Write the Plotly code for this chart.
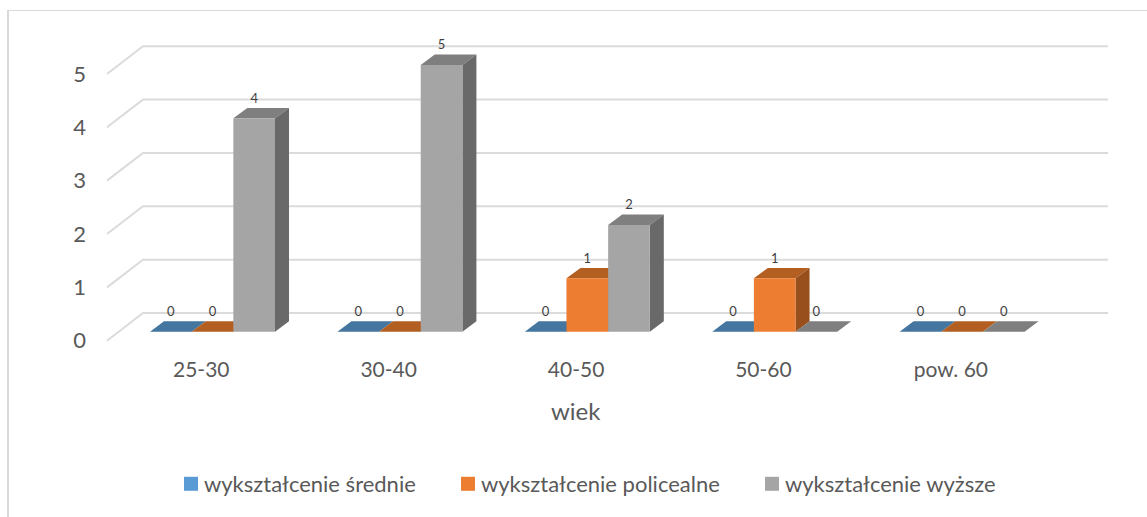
import plotly.graph_objects as go

# Data
categories = ["25-30", "30-40", "40-50", "50-60", "pow. 60"]
srednie = [0, 0, 0, 0, 0]
policealne = [0, 0, 1, 1, 0]
wyzsze = [4, 5, 2, 0, 0]
series_names = ["wykształcenie średnie", "wykształcenie policealne", "wykształcenie wyższe"]
axis_title = "wiek"
value_ticks = [0, 1, 2, 3, 4, 5]

# Canvas and scales: one x unit is one category, one y unit is one value step
W, H = 1147, 517
LEFT, RIGHT, TOP, BOTTOM = 92, 1147, 20, 355
CAT_PX = 187.4
VAL_PX = 53.35
X0_PX = 212.5
Y0_PX = 331.7

x_of = lambda px: (px - X0_PX) / CAT_PX
y_of = lambda py: (Y0_PX - py) / VAL_PX
paper_x = lambda px: (px - LEFT) / (RIGHT - LEFT)
paper_y = lambda py: (BOTTOM - py) / (BOTTOM - TOP)

BAR_W = 41.67 / CAT_PX
DEPTH_X = 14 / CAT_PX
DEPTH_Y = 10.4 / VAL_PX

WALL_FRONT_X = x_of(107)
WALL_BACK_X = x_of(143)
WALL_END_X = x_of(1108)
WALL_FRONT_Y0 = y_of(340.7)
WALL_BACK_Y0 = y_of(313)

GRID = "#DBDBDB"
TEXT = "#595959"
FONT = "Lato"
front_colors = ["#5B9BD5", "#ED7D31", "#A5A5A5"]
top_colors = ["#44769F", "#B45F22", "#7F7F7F"]
side_colors = ["#3D6587", "#984F1C", "#696969"]
series_values = [srednie, policealne, wyzsze]

fig = go.Figure()

# Gridlines wrap from the side wall onto the back wall
for v in value_ticks:
    fig.add_trace(go.Scatter(
        x=[WALL_FRONT_X, WALL_BACK_X, WALL_END_X],
        y=[WALL_FRONT_Y0 + v, WALL_BACK_Y0 + v, WALL_BACK_Y0 + v],
        mode="lines", line=dict(color=GRID, width=2),
        hoverinfo="skip", showlegend=False))


def polygon_trace(xs, ys, color):
    return go.Scatter(x=xs, y=ys, mode="lines", fill="toself", fillcolor=color,
                      line=dict(width=0, color=color), hoverinfo="skip", showlegend=False)


# Each bar is a front, top and side face; later series sit in front of earlier ones
for s, values in enumerate(series_values):
    top_x, top_y, side_x, side_y, front_x, front_y = [], [], [], [], [], []
    for i, v in enumerate(values):
        x0 = i - 1.5 * BAR_W + s * BAR_W
        x1 = x0 + BAR_W
        top_x += [x0, x1, x1 + DEPTH_X, x0 + DEPTH_X, x0, None]
        top_y += [v, v, v + DEPTH_Y, v + DEPTH_Y, v, None]
        if v > 0:
            side_x += [x1, x1 + DEPTH_X, x1 + DEPTH_X, x1, x1, None]
            side_y += [0, DEPTH_Y, v + DEPTH_Y, v, 0, None]
            front_x += [x0, x1, x1, x0, x0, None]
            front_y += [0, 0, v, v, 0, None]
    fig.add_trace(polygon_trace(top_x, top_y, top_colors[s]))
    if side_x:
        fig.add_trace(polygon_trace(side_x, side_y, side_colors[s]))
        fig.add_trace(polygon_trace(front_x, front_y, front_colors[s]))

# Value labels above each bar
LABEL_RISE = 19 / VAL_PX
for s, values in enumerate(series_values):
    fig.add_trace(go.Scatter(
        x=[i - BAR_W + s * BAR_W for i in range(len(values))],
        y=[v + LABEL_RISE for v in values],
        text=[str(v) for v in values],
        mode="text", textposition="middle center",
        textfont=dict(family=FONT, size=13, color="#404040"),
        hoverinfo="skip", showlegend=False))

# Legend keys, one legend per series so the entries can be spaced freely;
# the standoff nudges each square closer to its text
legend_px = [164, 441, 745]
for s, name in enumerate(series_names):
    lid = "legend" if s == 0 else f"legend{s + 1}"
    fig.add_trace(go.Scatter(
        x=[None], y=[None], mode="markers", name=name, legend=lid,
        marker=dict(symbol="square", size=14, color=front_colors[s], angle=90, standoff=7)))

legend_common = dict(
    orientation="h", xanchor="left", yanchor="middle", y=paper_y(484),
    font=dict(family=FONT, size=22, color=TEXT),
    bgcolor="rgba(0,0,0,0)", itemwidth=30, itemclick=False, itemdoubleclick=False)

fig.update_layout(
    width=W, height=H,
    margin=dict(l=LEFT, r=W - RIGHT, t=TOP, b=H - BOTTOM, pad=0),
    paper_bgcolor="white", plot_bgcolor="white",
    font=dict(family=FONT, color=TEXT),
    legend=dict(x=paper_x(legend_px[0]), **legend_common),
    legend2=dict(x=paper_x(legend_px[1]), **legend_common),
    legend3=dict(x=paper_x(legend_px[2]), **legend_common),
    xaxis=dict(
        range=[x_of(LEFT), x_of(RIGHT)], showgrid=False, zeroline=False, showline=False,
        tickmode="array", tickvals=[i - 0.06 for i in range(len(categories))],
        ticktext=categories, ticks="", ticklabelstandoff=0,
        tickfont=dict(family=FONT, size=21, color=TEXT), automargin=False),
    yaxis=dict(
        range=[y_of(BOTTOM), y_of(TOP)], showgrid=False, zeroline=False, showline=False,
        tickmode="array", tickvals=[v - 0.17 for v in value_ticks],
        ticktext=[str(v) for v in value_ticks], ticks="", ticklabelstandoff=5,
        tickfont=dict(family=FONT, size=22, color=TEXT), automargin=False),
    annotations=[dict(
        text=axis_title, xref="paper", yref="paper",
        x=paper_x(575.5), y=paper_y(410), xanchor="center", yanchor="middle", showarrow=False,
        font=dict(family=FONT, size=24, color=TEXT))],
    shapes=[
        dict(type="line", xref="paper", yref="paper",
             x0=paper_x(8), x1=paper_x(8), y0=paper_y(10), y1=paper_y(517),
             line=dict(color="#D9D9D9", width=2)),
        dict(type="line", xref="paper", yref="paper",
             x0=paper_x(7), x1=paper_x(1147), y0=paper_y(10.5), y1=paper_y(10.5),
             line=dict(color="#D9D9D9", width=1)),
    ],
)

fig.write_html("out.html", config={"displayModeBar": False})
